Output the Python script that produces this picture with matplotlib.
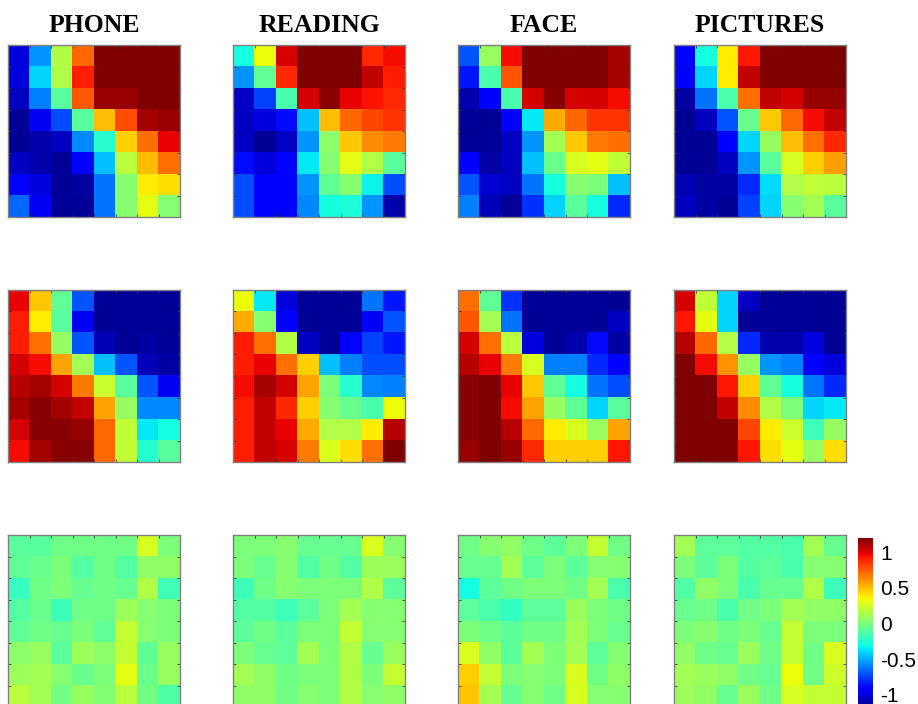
import numpy as np
import matplotlib
matplotlib.use("Agg")
import matplotlib.pyplot as plt

conditions = ["PHONE", "READING", "FACE", "PICTURES"]
cbar_ticks = [-1, -0.5, 0, 0.5, 1]
cbar_labels = ["-1", "-0.5", "0", "0.5", "1"]

# ---- Row 1 matrices ----
phone_r1 = [
    [-1.00, -0.55, 0.15, 0.72, 1.20, 1.20, 1.20, 1.20],
    [-1.00, -0.40, 0.15, 0.90, 1.20, 1.20, 1.20, 1.20],
    [-1.05, -0.60, -0.10, 0.75, 1.15, 1.15, 1.20, 1.20],
    [-1.15, -0.95, -0.72, -0.10, 0.50, 0.78, 1.12, 1.15],
    [-1.15, -1.10, -1.05, -0.58, -0.25, 0.45, 0.70, 0.98],
    [-1.05, -1.10, -1.15, -0.90, -0.45, 0.18, 0.50, 0.70],
    [-0.90, -1.00, -1.15, -1.12, -0.62, 0.03, 0.38, 0.42],
    [-0.65, -0.95, -1.15, -1.15, -0.62, 0.03, 0.30, 0.03],
]
reading_r1 = [
    [-0.30, 0.33, 1.02, 1.20, 1.20, 1.20, 0.88, 0.95],
    [-0.55, -0.08, 0.88, 1.20, 1.20, 1.20, 1.05, 0.90],
    [-1.05, -0.75, -0.15, 1.02, 1.18, 0.98, 0.93, 0.88],
    [-1.05, -1.00, -0.88, -0.45, 0.50, 0.72, 0.80, 0.85],
    [-1.05, -1.15, -1.05, -0.55, 0.05, 0.47, 0.62, 0.67],
    [-0.88, -1.00, -0.93, -0.35, 0.03, 0.30, 0.15, -0.10],
    [-0.72, -0.90, -0.93, -0.55, -0.08, 0.03, -0.32, -0.72],
    [-0.72, -0.93, -0.93, -0.58, -0.30, -0.28, -0.55, -1.10],
]
face_r1 = [
    [-0.70, 0.08, 0.95, 1.20, 1.20, 1.20, 1.20, 1.12],
    [-0.85, -0.15, 0.76, 1.20, 1.20, 1.20, 1.20, 1.12],
    [-1.10, -0.90, -0.15, 1.02, 1.18, 1.02, 1.02, 0.95],
    [-1.15, -1.15, -0.90, -0.35, 0.55, 0.72, 0.85, 0.85],
    [-1.15, -1.15, -1.05, -0.55, 0.12, 0.47, 0.67, 0.70],
    [-0.90, -1.12, -1.05, -0.45, -0.05, 0.27, 0.30, 0.20],
    [-0.70, -1.03, -1.05, -0.62, -0.30, 0.03, 0.00, -0.45],
    [-0.60, -1.08, -1.15, -0.78, -0.40, -0.10, -0.30, -0.80],
]
pictures_r1 = [
    [-0.90, -0.30, 0.38, 0.92, 1.20, 1.20, 1.20, 1.20],
    [-0.90, -0.40, 0.38, 1.05, 1.20, 1.20, 1.20, 1.20],
    [-1.12, -0.62, -0.15, 0.70, 1.05, 1.02, 1.15, 1.15],
    [-1.15, -1.05, -0.70, -0.05, 0.47, 0.72, 0.95, 1.05],
    [-1.15, -1.15, -0.90, -0.40, 0.08, 0.50, 0.70, 0.88],
    [-1.15, -1.15, -1.05, -0.55, -0.10, 0.27, 0.45, 0.58],
    [-1.08, -1.12, -1.12, -0.80, -0.38, 0.15, 0.20, 0.18],
    [-1.05, -1.12, -1.15, -0.75, -0.40, 0.03, 0.12, -0.10],
]

# ---- Row 2 matrices ----
phone_r2 = [
    [0.98, 0.47, -0.08, -0.70, -1.15, -1.15, -1.15, -1.15],
    [0.90, 0.38, -0.10, -0.95, -1.15, -1.15, -1.15, -1.15],
    [0.90, 0.70, 0.08, -0.70, -1.08, -1.15, -1.12, -1.15],
    [1.02, 0.95, 0.57, 0.12, -0.45, -0.70, -1.08, -1.12],
    [1.08, 1.12, 1.02, 0.67, 0.23, -0.10, -0.70, -0.95],
    [1.12, 1.18, 1.12, 1.05, 0.57, 0.08, -0.58, -0.58],
    [1.02, 1.18, 1.18, 1.15, 0.72, 0.20, -0.35, -0.30],
    [0.95, 1.12, 1.18, 1.18, 0.72, 0.20, -0.25, -0.10],
]
reading_r2 = [
    [0.33, -0.35, -1.00, -1.15, -1.15, -1.15, -0.62, -0.85],
    [0.55, 0.03, -0.90, -1.15, -1.15, -1.15, -0.95, -0.70],
    [0.90, 0.70, 0.15, -1.05, -1.15, -0.93, -0.75, -0.85],
    [0.90, 0.98, 0.70, 0.45, -0.45, -0.60, -0.72, -0.72],
    [0.95, 1.12, 1.02, 0.57, 0.00, -0.25, -0.58, -0.60],
    [0.90, 1.05, 0.88, 0.45, 0.03, -0.05, -0.15, 0.33],
    [0.90, 1.05, 0.98, 0.55, 0.15, 0.15, 0.38, 1.08],
    [0.90, 1.05, 1.02, 0.67, 0.28, 0.42, 0.70, 1.20],
]
face_r2 = [
    [0.70, -0.08, -0.78, -1.15, -1.15, -1.15, -1.15, -1.15],
    [0.76, 0.12, -0.62, -1.15, -1.15, -1.15, -1.15, -1.05],
    [1.02, 0.70, 0.18, -1.00, -1.15, -1.10, -0.88, -1.12],
    [1.08, 0.98, 0.67, 0.27, -0.60, -0.60, -0.80, -0.90],
    [1.18, 1.20, 0.98, 0.47, -0.08, -0.30, -0.62, -0.72],
    [1.18, 1.20, 0.95, 0.57, 0.08, -0.08, -0.40, -0.10],
    [1.18, 1.20, 1.08, 0.72, 0.38, 0.27, 0.08, 0.57],
    [1.15, 1.20, 1.15, 0.88, 0.45, 0.45, 0.45, 0.92],
]
pictures_r2 = [
    [1.02, 0.20, -0.40, -1.05, -1.15, -1.15, -1.15, -1.15],
    [0.92, 0.30, -0.40, -1.15, -1.15, -1.15, -1.15, -1.15],
    [1.08, 0.72, 0.15, -0.80, -1.10, -1.10, -1.00, -1.15],
    [1.20, 0.95, 0.60, 0.08, -0.55, -0.60, -0.90, -1.00],
    [1.20, 1.20, 0.92, 0.45, -0.08, -0.30, -0.62, -0.80],
    [1.20, 1.20, 1.05, 0.62, 0.15, 0.00, -0.40, -0.35],
    [1.20, 1.20, 1.20, 0.80, 0.38, 0.23, -0.18, 0.08],
    [1.20, 1.20, 1.20, 0.92, 0.42, 0.30, 0.08, 0.42],
]

# ---- Row 3 matrices ----
phone_r3 = [
    [-0.10, -0.10, -0.03, -0.03, -0.03, -0.03, 0.27, 0.00],
    [-0.08, -0.05, 0.00, -0.12, -0.03, -0.12, 0.06, 0.06],
    [-0.20, -0.03, 0.00, -0.06, -0.03, -0.06, 0.15, -0.17],
    [-0.12, -0.05, -0.18, -0.03, -0.03, 0.10, 0.03, 0.00],
    [-0.08, -0.03, -0.06, 0.00, -0.08, 0.21, 0.03, 0.00],
    [0.05, 0.08, -0.10, 0.10, 0.05, 0.21, -0.08, 0.08],
    [0.10, 0.12, 0.03, -0.05, 0.00, 0.30, -0.05, 0.08],
    [0.18, 0.12, -0.02, 0.08, 0.02, 0.18, -0.02, -0.13],
]
reading_r3 = [
    [0.00, 0.00, 0.03, -0.06, -0.06, -0.06, 0.27, 0.03],
    [0.00, -0.06, 0.03, -0.12, -0.03, -0.12, 0.09, 0.09],
    [-0.18, -0.03, 0.03, 0.00, 0.00, 0.00, 0.15, -0.09],
    [-0.12, -0.12, -0.18, -0.09, 0.00, 0.12, 0.03, 0.03],
    [-0.09, -0.03, -0.09, 0.00, 0.00, 0.21, 0.03, 0.03],
    [0.00, -0.06, -0.09, 0.12, 0.00, 0.15, -0.06, 0.09],
    [0.12, 0.06, -0.03, 0.00, 0.00, 0.15, 0.00, 0.21],
    [0.06, 0.06, -0.03, 0.03, 0.00, 0.15, 0.03, 0.06],
]
face_r3 = [
    [-0.03, 0.03, 0.06, -0.03, -0.09, 0.00, 0.21, -0.03],
    [-0.06, -0.06, 0.12, -0.09, 0.00, -0.09, 0.03, 0.03],
    [-0.30, -0.09, -0.03, 0.00, 0.00, -0.03, 0.12, -0.15],
    [-0.09, -0.15, -0.21, -0.09, -0.09, 0.09, 0.00, -0.03],
    [0.00, -0.03, -0.09, -0.03, -0.03, 0.12, 0.00, -0.06],
    [0.27, 0.06, -0.09, 0.12, 0.00, 0.12, -0.09, 0.03],
    [0.45, 0.21, 0.00, 0.03, 0.00, 0.27, -0.03, 0.06],
    [0.48, 0.12, -0.06, 0.03, -0.03, 0.27, 0.03, 0.03],
]
pictures_r3 = [
    [0.12, -0.09, -0.09, -0.12, -0.12, -0.15, 0.12, -0.06],
    [0.00, -0.09, 0.00, -0.12, -0.09, -0.15, 0.03, 0.03],
    [-0.12, 0.06, 0.00, -0.15, -0.06, -0.06, 0.15, -0.18],
    [-0.06, -0.03, -0.15, -0.03, 0.00, 0.12, 0.06, 0.06],
    [0.00, 0.03, -0.03, 0.00, -0.06, 0.21, 0.00, 0.00],
    [0.06, -0.03, -0.06, 0.09, -0.03, 0.21, -0.03, 0.27],
    [0.12, 0.09, 0.06, -0.03, -0.06, 0.33, -0.03, 0.24],
    [0.09, 0.06, -0.06, 0.09, -0.03, 0.27, 0.21, 0.21],
]

rows = [
    [phone_r1, reading_r1, face_r1, pictures_r1],
    [phone_r2, reading_r2, face_r2, pictures_r2],
    [phone_r3, reading_r3, face_r3, pictures_r3],
]

W, H = 918, 704
fig = plt.figure(figsize=(W / 100, H / 100), dpi=100)

col_left = [8, 233, 458, 674]
row_top = [45, 290, 535]
size = 172
vmin, vmax = -1.2, 1.2

im = None
for r, row in enumerate(rows):
    for c, mat in enumerate(row):
        ax = fig.add_axes([col_left[c] / W, 1 - (row_top[r] + size) / H, size / W, size / H])
        data = np.array(mat)
        im = ax.imshow(data, cmap="jet", vmin=vmin, vmax=vmax,
                       interpolation="nearest", aspect="auto")
        ax.set_xticks(np.arange(0.5, 7.5, 1.0))
        ax.set_yticks(np.arange(0.5, 7.5, 1.0))
        ax.tick_params(direction="in", length=2.5, width=0.6, color="#333333",
                       top=True, right=True, labelbottom=False, labelleft=False)
        for s in ax.spines.values():
            s.set_color("#808080")
            s.set_linewidth(1.0)
        if r == 0:
            ax.text(0.5, 1.075, conditions[c], transform=ax.transAxes,
                    ha="center", va="baseline", fontsize=18.5, fontweight="bold",
                    family="Liberation Serif")

cax = fig.add_axes([858 / W, 1 - 709 / H, 15 / W, (709 - 538) / H])
cb = fig.colorbar(im, cax=cax, ticks=cbar_ticks)
cb.ax.set_yticklabels(cbar_labels, family="Liberation Sans", fontsize=15)
cb.ax.tick_params(length=0, pad=5)
cb.outline.set_visible(False)

fig.savefig("out.png", dpi=100)
